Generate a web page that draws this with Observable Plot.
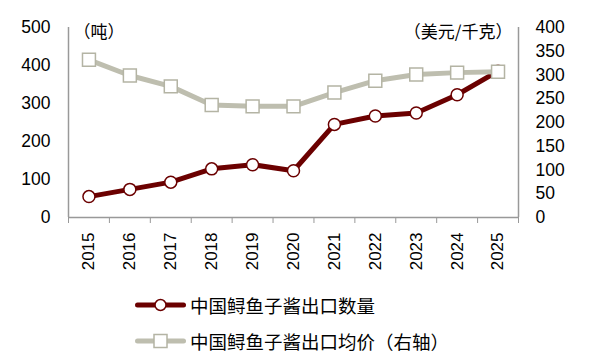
<!DOCTYPE html>
<html>
<head>
<meta charset="utf-8">
<script src="https://cdn.jsdelivr.net/npm/d3@7"></script>
<script src="https://cdn.jsdelivr.net/npm/@observablehq/plot@0.6"></script>
<style>
  html, body { margin: 0; padding: 0; background: #fff; }
  #wrap { position: relative; width: 590px; height: 359px; overflow: hidden; }
  #legend { position: absolute; left: 135px; top: 287px; font-family: "Noto Sans CJK SC", sans-serif; font-size: 18.5px; color: #000; }
  .row { display: flex; align-items: center; height: 36px; }
  .row svg { margin-right: 4px; }
</style>
</head>
<body>
<div id="wrap">
  <div id="chart"></div>
  <div id="legend"></div>
</div>
<script>
const years = [2015, 2016, 2017, 2018, 2019, 2020, 2021, 2022, 2023, 2024, 2025];
const quantity = [55, 74, 93, 128, 139, 123, 245, 267, 275, 323, 385];
const price = [332, 299, 276, 237, 234, 234, 263, 288, 301, 305, 307];
const leftTicks = [0, 100, 200, 300, 400, 500];
const rightTicks = [0, 50, 100, 150, 200, 250, 300, 350, 400];
const seriesNames = ["中国鲟鱼子酱出口数量", "中国鲟鱼子酱出口均价（右轴）"];
const leftUnit = "（吨）";
const rightUnit = "（美元/千克）";

const colorQty = "#6B0000";
const colorPrice = "#BEBEAF";
const axisColor = "#999999";
const k = 500 / 400; // right axis -> left axis scale

const qtyData = years.map((y, i) => ({year: y, v: quantity[i]}));
const priceData = years.map((y, i) => ({year: y, v: price[i] * k}));
const bounds = d3.range(years.length + 1).map(i => years[0] - 0.5 + i);

const chart = Plot.plot({
  width: 590,
  height: 290,
  marginLeft: 68,
  marginRight: 72,
  marginTop: 27,
  marginBottom: 73,
  style: {fontFamily: "'Liberation Sans', Arial, sans-serif", fontSize: "17.5px", color: "#000", background: "#fff"},
  x: {type: "linear", domain: [years[0] - 0.5, years[years.length - 1] + 0.5]},
  y: {domain: [0, 500]},
  marks: [
    Plot.axisY(leftTicks, {anchor: "left", tickSize: 0, tickPadding: 18, label: null, fontSize: "17.5px"}),
    Plot.axisY(rightTicks.map(v => v * k), {anchor: "right", tickSize: 0, tickPadding: 17, label: null, tickFormat: d => Math.round(d / k), fontSize: "17.5px"}),
    Plot.axisX(years, {tickSize: 0, tickPadding: 15, tickRotate: -90, tickFormat: d => String(d), label: null, fontSize: "17px"}),
    Plot.axisX(bounds, {tickSize: 6, stroke: axisColor, tickFormat: () => "", label: null}),
    Plot.ruleY([0], {stroke: axisColor, strokeWidth: 1.5}),
    Plot.ruleX([bounds[0], bounds[bounds.length - 1]], {y1: 0, y2: 500, stroke: axisColor, strokeWidth: 1.5}),
    Plot.line(qtyData, {x: "year", y: "v", stroke: colorQty, strokeWidth: 5}),
    Plot.dot(qtyData, {x: "year", y: "v", r: 6, fill: "#fff", stroke: colorQty, strokeWidth: 1.5}),
    Plot.line(priceData, {x: "year", y: "v", stroke: colorPrice, strokeWidth: 5}),
    Plot.dot(priceData, {x: "year", y: "v", symbol: "square", r: 7.3, fill: "#fff", stroke: "#B4B4A4", strokeWidth: 1.5}),
    Plot.text([leftUnit], {frameAnchor: "top-left", dx: 5, dy: 5, lineAnchor: "middle", textAnchor: "start", fontSize: 17, fontFamily: "'Noto Sans CJK SC', sans-serif", fill: "#000"}),
    Plot.text([rightUnit], {frameAnchor: "top-right", dx: -6, dy: 5, lineAnchor: "middle", textAnchor: "end", fontSize: 17, fontFamily: "'Noto Sans CJK SC', sans-serif", fill: "#000"})
  ]
});
document.getElementById("chart").appendChild(chart);

// legend
const legend = document.getElementById("legend");
function swatch(color, borderColor, shape) {
  const marker = shape === "circle"
    ? `<circle cx="25.5" cy="8" r="5.5" fill="#fff" stroke="${borderColor}" stroke-width="1.5"/>`
    : `<rect x="19" y="1.5" width="13" height="13" fill="#fff" stroke="${borderColor}" stroke-width="1.5"/>`;
  return `<svg width="51" height="16" viewBox="0 0 51 16"><line x1="2.5" y1="8" x2="48.5" y2="8" stroke="${color}" stroke-width="5" stroke-linecap="round"/>${marker}</svg>`;
}
legend.innerHTML =
  `<div class="row">${swatch(colorQty, colorQty, "circle")}<span>${seriesNames[0]}</span></div>` +
  `<div class="row">${swatch(colorPrice, "#B4B4A4", "square")}<span>${seriesNames[1]}</span></div>`;
</script>
</body>
</html>
